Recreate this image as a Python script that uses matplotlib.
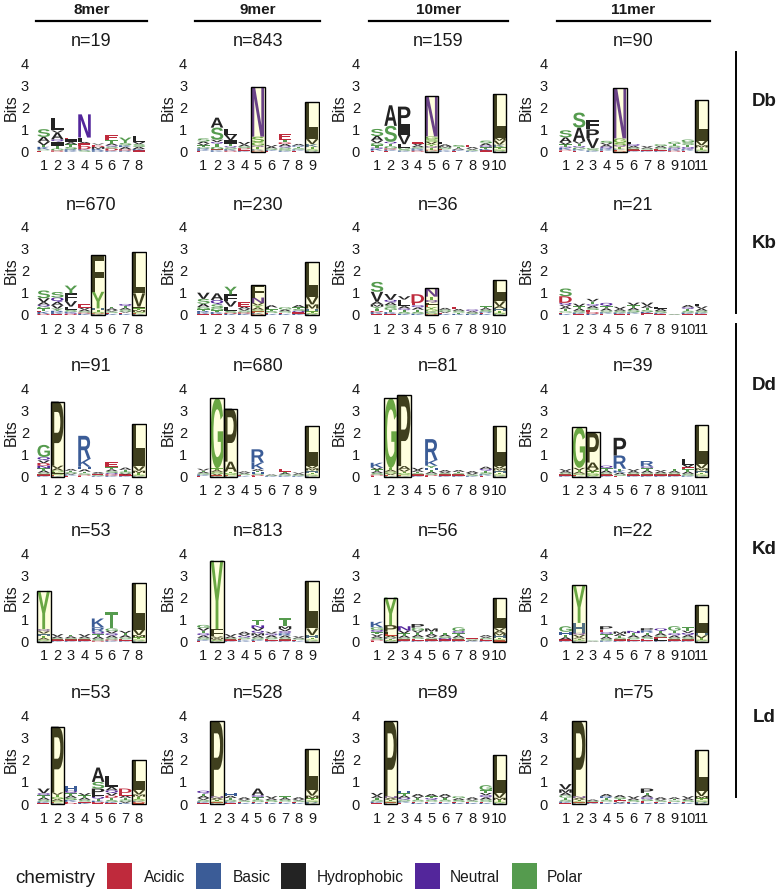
import matplotlib
matplotlib.use("Agg")
import matplotlib.pyplot as plt
from matplotlib.textpath import TextPath
from matplotlib.font_manager import FontProperties, fontManager
from matplotlib.patches import PathPatch, Rectangle
from matplotlib.transforms import Affine2D
from matplotlib.lines import Line2D

# ---------------- data ----------------
row_labels = ["Db", "Kb", "Dd", "Kd", "Ld"]
col_labels = ["8mer", "9mer", "10mer", "11mer"]
n_counts = [[19, 843, 159, 90],
            [670, 230, 36, 21],
            [91, 680, 81, 39],
            [53, 813, 56, 22],
            [53, 528, 89, 75]]
boxed = [[[], [5, 9], [5, 10], [5, 11]],
         [[5, 8], [5, 9], [5, 10], []],
         [[2, 8], [2, 3, 9], [2, 3, 10], [2, 3, 11]],
         [[1, 8], [2, 9], [2, 10], [2, 11]],
         [[2, 8], [2, 9], [2, 10], [2, 11]]]

# stacks per position, bottom to top: letter + height in bits
db_8mer = ["E.05 C.05 K.12 T.08 V.15 A.22 S.35", "D.06 G.08 T.14 I.18 Q.1 A.3 V.1 L.58",
           "K.06 R.05 S.1 T.12 A.1 I.14 E.04", "S.06 K.05 D.15 E.12 A.06 F.2 N1.05",
           "R.05 K.08 M.08 D.06 E.05 V.05", "K.05 D.1 S.08 Q.06 A.08 T.14 E.24",
           "R.05 D.06 A.1 K.08 S.1 Y.25", "E.06 K.06 A.1 S.12 V.1 L.25"]
db_9mer = ["E.04 K.06 R.05 G.06 T.08 V.08 A.09 S.14", "K.06 E.04 G.12 T.14 Q.08 V.1 S.55 A.45",
           "D.05 K.06 S.08 Q.06 T.12 I.15 V.24 L.26", "K.05 E.06 D.05 S.08 A.08 V.12",
           "D.05 K.06 T.1 Q.07 G.15 S.25 N2.25", "E.04 K.05 S.06 A.07 V.08",
           "K.05 G.06 S.08 Q.06 A.1 D.07 T.12 E.26", "E.05 K.05 S.06 T.07 R.05 A.07",
           "R.05 S.06 T.1 K.14 V.22 I.35 L1.33"]
db_10mer = ["E.05 K.08 Q.06 T.1 G.1 V.12 A.2 S.32", "E.04 K.06 D.05 G.1 T.12 Q.08 S.72 A.93",
            "K.05 S.06 G.08 L.15 V.42 I.48 P.8", "D.05 R.05 K.05 S.06 A.08 V.08 E.08",
            "K.05 D.04 T.08 Q.08 Y.1 V.1 S.12 G.12 N1.82", "K.06 E.05 S.08 M.06 A.08 L.1",
            "E.04 K.05 A.06 T.07 S.08", "K.04 S.05 V.06 A.06 E.1",
            "E.06 K.06 T.08 Q.08 A.1 S.12", "R.04 S.06 T.1 K.12 V.18 M.12 I.28 L1.7"]
db_11mer = ["E.05 D.04 K.08 Q.06 T.1 V.1 A.22 S.32", "E.05 K.06 G.08 Q.06 T.12 V.1 A.62 S.68",
            "K.05 S.06 G.05 V.45 P.4 F.42", "E.05 K.05 R.05 Q.08 A.08 V.08 S.1",
            "D.04 E.05 K.05 T.08 Q.08 S.1 G.2 N2.27", "K.05 E.05 S.08 A.08 Q.08 L.1",
            "K.05 E.04 S.05 A.06 V.06", "K.05 E.06 S.07 A.08 G.08",
            "D.05 K.06 Q.08 S.08 T.08 G.1", "E.05 K.06 Q.1 T.1 S.12 G.12",
            "K.04 S.05 T.1 M.1 V.2 I.3 L1.55"]

kb_8mer = ["D.05 K.1 E.05 T.1 G.08 Q.08 A.12 V.18 S.35", "E.05 K.08 R.06 Y.1 V.15 A.15 Q.2 S.25",
           "D.05 Q.05 K.05 S.08 L.15 V.25 F.35 Y.35", "K.06 D.05 S.06 A.08 V.08 E.15",
           "K.04 D.04 S.06 T.08 H.08 Y.75 F1.68", "K.05 E.05 S.06 V.06 A.08 T.08",
           "K.05 E.06 V.05 S.08 A.08 T.08 Q.1", "K.04 E.04 S.06 M.08 T.08 I.08 V.6 L1.85"]
kb_9mer = ["E.05 K.08 R.05 T.08 G.1 A.15 S.22 V.28", "E.05 K.08 T.08 G.1 S.17 Q.2 A.3",
           "K.05 D.05 S.08 L.2 V.25 F.3 Y.35", "K.06 D.06 S.08 V.08 A.1 E.2",
           "D.04 K.06 E.06 S.08 A.1 Y.1 V.1 N.25 F.56", "K.05 E.05 S.08 T.08 L.08 A.1",
           "K.05 E.06 S.06 A.08 G.1", "K.06 E.06 Q.07 S.08 T.08 A.1",
           "K.04 S.05 T.08 H.12 M.19 V.35 I.35 L1.2"]
kb_10mer = ["E.05 K.08 D.05 T.1 Y.1 M.1 A.12 V.45 S.45", "E.05 K.08 T.1 G.1 S.12 A.12 Q.12 V.26",
            "K.06 S.08 T.08 Q.08 A.1 L.3 V.15", "K.06 S.08 T.1 A.1 Q.1 E.1 D.4",
            "D.04 S.06 K.06 G.1 Y.1 E.1 L.1 Q.12 T.15 N.37", "K.05 E.05 V.06 S.08 A.08",
            "K.05 T.06 S.08 A.08 E.1", "K.05 S.06 A.06 Q.08",
            "K.05 E.05 R.05 S.08 A.08 T.08", "K.04 S.06 T.1 H.1 A.1 V.22 I.3 L.68"]
kb_11mer = ["K.05 E.06 G.06 T.1 A.1 V.08 Q.1 D.3 S.35", "E.05 K.06 S.08 A.1 T.1 V.12",
            "K.05 D.08 E.1 S.08 A.1 Q.08 T.12 V.12", "E.06 K.06 S.08 A.1 T.1 Q.15",
            "E.05 K.06 S.08 A.08 V.1", "E.06 K.06 S.1 A.1 T.12 V.12",
            "E.08 K.06 S.08 T.1 A.1 V.14", "E.05 K.05 S.08 A.1 L.1",
            "A.02 S.02", "E.05 K.06 S.08 T.08 Q.08 A.1", "E.05 K.06 S.08 A.1 V.1 L.12"]

dd_8mer = ["K.05 E.05 S.08 A.1 T.1 N.12 D.12 V.12 Q.15 G.55", "K.04 E.04 S.06 L.06 G.08 A.1 V.12 P2.9",
           "E.05 K.05 V.05 S.06 T.06 A.08", "E.05 D.04 S.06 T.08 A.1 H.12 K.35 R1.05",
           "K.04 S.04 E.04 V.04 A.05", "K.05 D.06 Q.06 S.08 A.08 T.1 E.22",
           "K.05 E.05 V.05 S.08 T.08 A.1", "K.04 S.05 T.08 M.1 V.2 I.6 L1.3"]
dd_9mer = ["E.04 K.06 S.06 A.06 T.06 V.08", "K.04 E.03 V.07 S.08 A.08 T.08 G3.18",
           "K.03 E.03 S.05 G.06 T.06 A.45 P2.4", "K.04 E.04 S.05 V.05 A.06",
           "E.04 D.04 S.06 H.06 T.06 A.08 K.3 R.6", "K.03 S.03 A.04 E.04",
           "K.05 S.06 A.06 T.06 E.12", "K.04 S.05 A.05 V.05",
           "K.05 S.05 T.08 H.1 M.1 V.12 I.4 L1.4"]
dd_10mer = ["E.05 D.04 S.08 A.08 T.08 V.08 K.22", "K.04 E.04 V.07 S.08 A.08 T.08 G3.16",
            "K.03 E.03 S.05 G.06 T.06 V.1 A.15 P3.22", "K.05 E.05 S.06 T.06 A.08 V.1",
            "E.04 D.04 S.06 A.08 T.08 H.1 Y.1 K.25 R.95", "K.05 E.05 S.06 V.06 A.08",
            "K.05 E.05 S.06 T.06 A.08", "K.04 S.06 V.07 A.08",
            "E.05 K.06 S.08 T.08 Q.08 A.1", "K.05 S.05 T.08 H.1 M.1 V.12 I.4 L1.4"]
dd_11mer = ["K.05 E.05 S.08 A.08 V.08", "K.04 E.04 S.06 A.08 T.08 V.1 G1.85",
            "K.03 S.05 G.08 T.08 V.1 A.3 P1.36", "K.05 E.05 S.08 A.1 T.1 Q.12",
            "E.04 S.06 A.08 K.1 T.08 R.6 P.8", "K.05 E.05 S.08 A.08 V.08",
            "K.05 E.05 S.08 A.1 T.1 Q.08 R.25", "K.05 E.05 S.06 A.08 V.06",
            "K.05 E.05 S.08 A.08 T.09", "K.05 S.08 A.1 T.1 E.1 V.12 L.25",
            "K.05 S.05 T.08 H.1 M.1 V.2 I.35 L1.42"]

kd_8mer = ["K.04 S.05 A.08 T.1 H.1 V.1 Q.1 Y1.73", "K.05 E.05 S.06 A.08 V.1",
           "K.05 E.05 S.06 A.08 T.06", "K.05 E.05 S.06 A.08 V.1",
           "D.05 S.08 A.1 T.1 Q.12 R.2 K.4", "K.05 D.05 S.08 A.1 Q.1 V.1 G.12 T.75",
           "K.05 E.06 S.08 A.1 T.1 V.1", "K.05 S.05 T.1 M.1 V.25 I.5 L1.6"]
kd_9mer = ["E.04 K.06 S.08 A.1 Q.1 T.12 V.12 G.14", "K.03 S.05 A.05 M.05 V.06 F.33 Y3.1",
           "K.05 E.05 S.06 A.08 V.1", "K.06 E.05 S.08 Q.08 V.08 A.1",
           "E.04 K.06 S.08 A.1 M.1 Q.12 V.12 N.12 T.26", "K.05 E.06 S.08 A.1 Q.08 V.08",
           "K.05 E.05 S.08 A.1 R.1 Q.1 V.1 M.12 T.35", "K.04 E.05 S.05 A.06 V.05",
           "K.05 S.05 T.08 H.12 V.3 I.55 L1.6"]
kd_10mer = ["E.05 D.04 S.08 A.08 V.08 T.1 Q.1 G.12 K.25", "K.03 S.05 T.05 R.06 A.08 E.08 F.1 P.3 Y1.25",
            "K.05 E.05 S.08 A.1 T.1 V.12 N.2", "K.05 E.08 S.08 A.1 T.1 V.1 G.12 P.17",
            "K.05 E.05 S.08 V.08 A.1 T.1 M.14", "K.05 E.05 N.06 S.08 A.08 T.08",
            "K.05 E.05 S.08 A.1 T.1 Q.1 G.17", "K.03 A.04 S.04 E.04",
            "K.05 E.06 S.06 V.06 A.07", "E.06 S.05 T.08 H.1 M.1 A.1 V.12 I.3 L1.09"]
kd_11mer = ["K.05 E.05 A.1 T.1 H.15 G.25", "K.04 S.05 T.05 A.06 V.1 Q.1 H.45 Y1.7",
            "A.02 S.03", "K.05 S.08 A.1 T.1 Q.1 E.12 P.15",
            "K.05 E.05 S.08 T.08 A.1 M.1", "K.05 E.06 S.08 A.1 T.1 N.1",
            "K.05 E.08 S.08 A.1 T.1 R.1 P.1", "K.05 L.07 E.08 S.08 A.1 T.1 Q.12",
            "K.05 E.05 S.08 A.1 Q.1 T.12 G.2", "K.05 E.05 S.1 A.1 Q.1 V.1 T.15",
            "K.04 S.05 T.08 V.12 H.12 I.3 L.94"]

ld_8mer = ["E.05 K.06 S.08 A.1 T.1 Q.1 V.21", "K.04 E.04 S.06 A.08 G.1 T.1 V.1 P2.98",
           "D.05 E.05 K.08 S.1 A.1 T.1 Q.12 H.2", "K.06 E.05 S.08 A.1 T.1 V.1",
           "E.04 D.05 K.06 T.08 Q.1 F.12 P.25 S.3 A.65", "E.05 K.05 S.08 T.1 D.1 V.12 Q.12 A.15 L.48",
           "K.05 V.07 S.08 T.08 A.1 E.12 D.2", "E.05 D.05 K.05 S.08 T.1 M.1 V.2 I.2 L1.17"]
ld_9mer = ["E.05 K.06 S.08 V.08 A.1 T.1 Q.13", "K.03 E.04 S.05 T.05 V.05 A.06 N.07 P3.4",
           "E.05 K.06 S.08 T.08 A.1 H.13", "K.05 E.05 S.06 V.06 A.08",
           "K.05 E.05 S.1 T.1 Q.1 A.3", "K.05 E.05 S.08 A.08 V.09",
           "K.05 E.06 S.08 A.08 T.08", "K.05 E.05 S.06 V.06 A.08",
           "K.05 R.05 S.06 T.1 M.12 V.25 I.4 L1.47"]
ld_10mer = ["E.05 K.06 S.08 T.08 A.1 V.13", "K.03 E.04 S.05 T.05 V.05 A.06 N.07 P3.4",
            "E.06 K.06 S.08 Q.08 A.1 T.1 H.12", "K.05 E.06 S.08 T.08 V.08 A.1",
            "K.05 E.06 S.08 Q.08 T.08 A.1", "K.05 E.06 S.08 T.08 V.08 A.1",
            "K.05 E.05 S.08 A.08 G.09", "K.05 E.05 S.06 V.06 A.08",
            "K.05 E.05 S.1 A.1 Q.1 V.1 T.12 G.23", "K.05 S.05 T.08 M.1 V.22 I.35 L1.35"]
ld_11mer = ["E.05 K.06 S.08 T.1 G.1 A.12 M.15 V.24", "K.03 E.04 S.05 T.05 V.05 A.06 N.07 P3.4",
            "K.04 E.05 S.05 A.06", "K.05 E.06 S.08 T.08 R.08 A.1",
            "K.05 V.05 E.06 T.06 S.08 A.1", "K.05 E.05 S.08 A.08 V.09",
            "K.05 E.08 S.08 Q.09 A.1 T.1 P.2", "K.05 E.05 S.06 V.06 A.08",
            "K.05 E.05 S.06 T.06 A.08", "K.05 E.05 S.08 A.08 V.09",
            "K.05 R.05 S.06 T.1 M.1 V.25 I.4 L1.44"]

chem_names = ["Acidic", "Basic", "Hydrophobic", "Neutral", "Polar"]
chem_colors = ["#BF2A3C", "#3B5C97", "#232323", "#53269B", "#559B4E"]
chem_letters = ["DE", "KRH", "AVLIPWFM", "QN", "GSTYC"]

panels = [[db_8mer, db_9mer, db_10mer, db_11mer],
          [kb_8mer, kb_9mer, kb_10mer, kb_11mer],
          [dd_8mer, dd_9mer, dd_10mer, dd_11mer],
          [kd_8mer, kd_9mer, kd_10mer, kd_11mer],
          [ld_8mer, ld_9mer, ld_10mer, ld_11mer]]

# ---------------- layout (pixels) ----------------
W, H = 777, 890
fig = plt.figure(figsize=(W / 100, H / 100), dpi=100)
fig.patch.set_facecolor("white")

names = {f.name for f in fontManager.ttflist}
BASE = "Liberation Sans" if "Liberation Sans" in names else "DejaVu Sans"
plt.rcParams["font.family"] = [BASE, "DejaVu Sans"]

color_of = {}
for letters, c in zip(chem_letters, chem_colors):
    for ch in letters:
        color_of[ch] = c

FP = FontProperties(family=BASE, weight="bold")
_glyphs = {}


def glyph(ch):
    if ch not in _glyphs:
        p = TextPath((0, 0), ch, size=1, prop=FP)
        _glyphs[ch] = (p, p.get_extents())
    return _glyphs[ch]


def draw_letter(ax, ch, x, y, w, h):
    p, ext = glyph(ch)
    tr = (Affine2D().translate(-ext.x0, -ext.y0)
          .scale(w / ext.width, h / ext.height).translate(x - w / 2, y))
    ax.add_patch(PathPatch(tr.transform_path(p), facecolor=color_of.get(ch, "#232323"),
                           edgecolor="none", lw=0, zorder=2))


def fx(px):
    return px / W


def fy(py):
    return 1 - py / H


UNIT = 13.6          # px per position
BIT = 22.1           # px per bit
pos1_px = [43.7, 203.4, 377.0, 565.5]
base_px = [151.7, 315.0, 476.7, 641.7, 804.0]
ytick_pad = [6.5, 8.0, 8.8, 9.5]
bits_off = [24.5, 27.0, 29.5, 31.0]
YLO, YHI = -0.12, 4.15

for r in range(5):
    for c in range(4):
        stacks = panels[r][c]
        npos = len(stacks)
        left = pos1_px[c] - 0.6 * UNIT
        width = (npos + 0.2) * UNIT
        y0 = base_px[r]
        bottom = y0 - YLO * BIT
        top = y0 - YHI * BIT
        ax = fig.add_axes([fx(left), fy(bottom), width / W, (bottom - top) / H])
        ax.set_xlim(0.4, npos + 0.6)
        ax.set_ylim(YLO, YHI)
        for s in ax.spines.values():
            s.set_visible(False)
        ax.set_facecolor("none")
        ax.set_xticks(range(1, npos + 1))
        ax.set_xticklabels([str(i) for i in range(1, npos + 1)])
        ax.set_yticks([0, 1, 2, 3, 4])
        ax.tick_params(axis="x", length=0, pad=3.5, labelsize=10.5, labelcolor="#1a1a1a")
        ax.tick_params(axis="y", length=0, pad=ytick_pad[c] * 0.72, labelsize=10.5,
                       labelcolor="#1a1a1a")
        totals = []
        for i, col in enumerate(stacks):
            x = i + 1
            yb = 0.0
            for tok in col.split():
                ch, hgt = tok[0], float(tok[1:])
                draw_letter(ax, ch, x, yb, 0.92, hgt)
                yb += hgt
            totals.append(yb)
        for p in boxed[r][c]:
            ax.add_patch(Rectangle((p - 0.5, 0), 1.0, totals[p - 1],
                                   facecolor=(1, 1, 0, 0.13), edgecolor="black",
                                   lw=1.0, zorder=3))
        cx = left + width / 2
        fig.text(fx(cx), fy(y0 - 105.5), f"n={n_counts[r][c]}", ha="center",
                 va="baseline", fontsize=13, color="#1a1a1a")
        fig.text(fx(left - bits_off[c]), fy(y0 - 2 * BIT), "Bits", rotation=90,
                 ha="center", va="center", fontsize=11.5, color="#1a1a1a")
        if r == 0:
            fig.add_artist(Line2D([fx(left), fx(left + width)], [fy(21), fy(21)],
                                  color="black", lw=1.6))
            fig.text(fx(cx), fy(13.5), col_labels[c], ha="center", va="baseline",
                     fontsize=11, fontweight="bold", color="#1a1a1a")

# right-hand group brackets and labels
LX = 736
fig.add_artist(Line2D([fx(LX), fx(LX)], [fy(52), fy(313)], color="black", lw=1.4))
fig.add_artist(Line2D([fx(LX), fx(LX)], [fy(324), fy(797)], color="black", lw=1.4))
label_y = [102, 243, 385, 549, 717]
for lab, yy in zip(row_labels, label_y):
    fig.text(fx(764), fy(yy), lab, ha="center", va="center", fontsize=13.5,
             fontweight="bold", color="#1a1a1a")

# legend
fig.text(fx(15), fy(883), "chemistry", ha="left", va="baseline", fontsize=13.5,
         color="#1a1a1a")
sw_x = [107, 196, 281, 415, 512]
tx_x = [144, 233, 317, 450, 547]
for nm, colr, sx, tx in zip(chem_names, chem_colors, sw_x, tx_x):
    fig.add_artist(Rectangle((fx(sx), fy(889)), 25 / W, 26 / H, facecolor=colr,
                             edgecolor="none", transform=fig.transFigure))
    fig.text(fx(tx), fy(882), nm, ha="left", va="baseline", fontsize=11.2,
             color="#1a1a1a")

fig.savefig("out.png", dpi=100)
